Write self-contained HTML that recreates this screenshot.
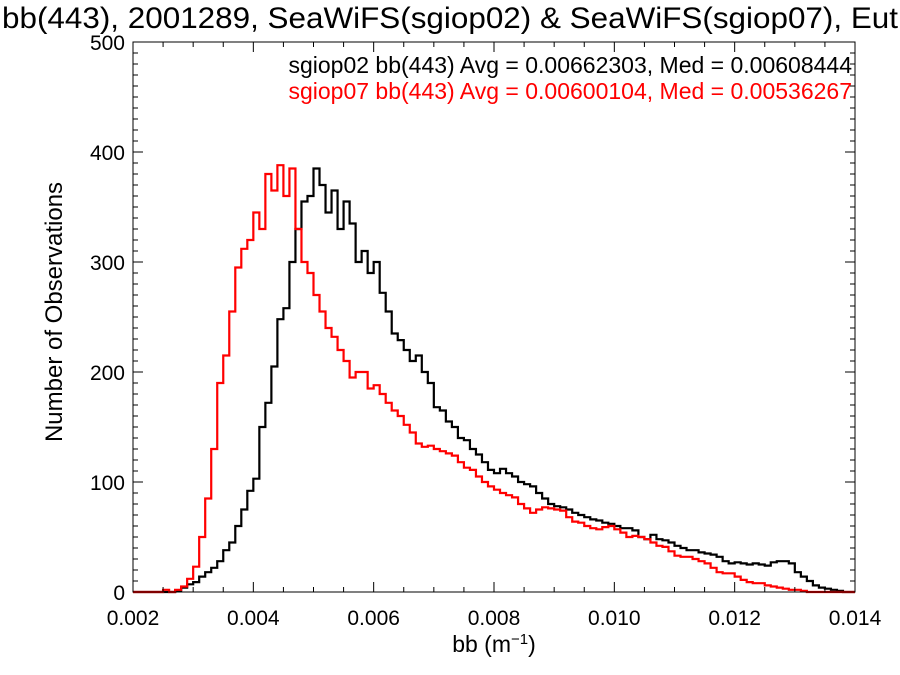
<!DOCTYPE html>
<html><head><meta charset="utf-8"><style>
body{margin:0;background:#fff}
svg{display:block;font-family:"Liberation Sans",sans-serif}
</style></head><body>
<svg id="c" width="900" height="675"></svg>
<script>
const binStart = 0.002;
const binWidth = 0.0001;
const sgiop02Counts = [0,0,0,0,0,0,0,1,4,7,9,14,18,22,28,38,45,60,75,92,103,150,172,205,248,258,300,330,355,360,385,370,345,365,330,355,335,300,310,290,300,272,255,235,229,220,210,215,200,190,168,165,155,150,140,138,130,125,118,111,108,112,108,105,100,98,96,90,85,80,78,77,75,72,70,68,66,65,63,62,60,58,58,56,50,48,52,48,47,45,42,40,38,38,36,35,34,32,28,26,27,26,25,26,25,24,27,28,28,26,18,14,10,6,4,3,2,1,0,0];
const sgiop07Counts = [0,0,0,0,0,2,0,2,5,12,23,50,85,130,190,215,255,295,312,320,345,330,380,365,388,360,385,330,300,290,270,255,240,232,220,210,195,200,200,185,188,180,172,165,160,152,145,135,132,133,130,128,126,124,118,113,111,105,100,96,93,90,88,86,80,76,72,75,77,76,75,74,68,64,63,60,58,57,59,60,57,54,50,51,50,48,45,42,41,37,33,32,32,30,28,26,22,18,17,17,14,11,9,8,8,6,5,4,3,2,2,1,0,0,0,0,0,0,0,0];
const xTicks = [0.002,0.004,0.006,0.008,0.010,0.012,0.014];
const xTickLabels = ["0.002","0.004","0.006","0.008","0.010","0.012","0.014"];
const yTicks = [0,100,200,300,400,500];
const yTickLabels = ["0","100","200","300","400","500"];

const L=133,R=855,T=42,B=592,xMin=0.002,xMax=0.014,yMin=0,yMax=500;
const X=v=>L+(v-xMin)/(xMax-xMin)*(R-L);
const Y=v=>B-(v-yMin)/(yMax-yMin)*(B-T);
const svg=document.getElementById('c');
const NS='http://www.w3.org/2000/svg';
function mk(tag,attrs,parent){const e=document.createElementNS(NS,tag);for(const k in attrs)e.setAttribute(k,attrs[k]);(parent||svg).appendChild(e);return e;}

function stepPath(counts,color,name){
  let d='M'+X(binStart)+','+Y(0);
  counts.forEach((c,i)=>{const x0=X(binStart+i*binWidth),x1=X(binStart+(i+1)*binWidth);d+=' L'+x0+','+Y(c)+' L'+x1+','+Y(c);});
  const p=mk('path',{d:d,fill:'none',stroke:color,'stroke-width':2.2,'stroke-linejoin':'miter'});
  
  
}
stepPath(sgiop02Counts,'#000','sgiop02-series');
stepPath(sgiop07Counts,'#ff0000','sgiop07-series');

const box=mk('rect',{x:L,y:T,width:R-L,height:B-T,fill:'none',stroke:'#000','stroke-width':1});


for(let v=xMin;v<=xMax+1e-9;v+=0.0005){
  const major=Math.abs(v/0.002-Math.round(v/0.002))<1e-6, len=major?10:5, x=X(v);
  mk('line',{x1:x,x2:x,y1:B,y2:B-len,stroke:'#000'});
  mk('line',{x1:x,x2:x,y1:T,y2:T+len,stroke:'#000'});
}
xTicks.forEach((v,i)=>{const t=mk('text',{x:X(v),y:B+33,'font-size':21,'text-anchor':'middle'});t.textContent=xTickLabels[i];

});
for(let v=0;v<=500;v+=10){
  const major=v%100===0,len=major?10:5,y=Y(v);
  mk('line',{x1:L,x2:L+len,y1:y,y2:y,stroke:'#000'});
  mk('line',{x1:R,x2:R-len,y1:y,y2:y,stroke:'#000'});
}
yTicks.forEach((v,i)=>{const t=mk('text',{x:L-8,y:Y(v)+8,'font-size':21,'text-anchor':'end'});t.textContent=yTickLabels[i];

});
</script>
<div style="position:absolute;left:0;top:0;width:900px;height:675px;pointer-events:none">
<svg width="900" height="675" style="position:absolute;left:0;top:0;font-family:'Liberation Sans',sans-serif">
<text x="2" y="28" font-size="30" textLength="896" lengthAdjust="spacingAndGlyphs">bb(443), 2001289, SeaWiFS(sgiop02) &amp; SeaWiFS(sgiop07), Eut</text>
<text x="852" y="73" font-size="23" text-anchor="end" fill="#000">sgiop02 bb(443) Avg = 0.00662303, Med = 0.00608444</text>
<text x="852" y="99" font-size="23" text-anchor="end" fill="#ff0000">sgiop07 bb(443) Avg = 0.00600104, Med = 0.00536267</text>
<text x="494" y="652" font-size="23" text-anchor="middle">bb (m<tspan font-size="15" dy="-8">−1</tspan><tspan dy="8">)</tspan></text>
<text transform="translate(62,312) rotate(-90)" font-size="24" text-anchor="middle">Number of Observations</text>
</svg></div>
</body></html>
